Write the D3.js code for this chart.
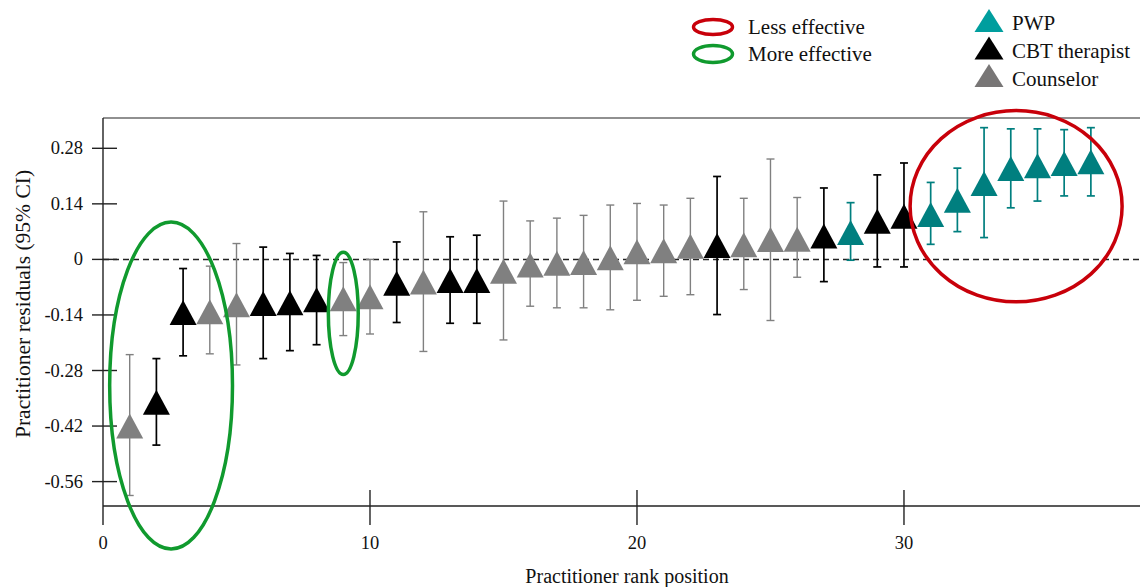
<!DOCTYPE html>
<html>
<head>
<meta charset="utf-8">
<script src="https://cdn.jsdelivr.net/npm/d3@7"></script>
<style>
  body { margin: 0; background: #fff; }
  svg { display: block; font-family: "Liberation Serif", "Times New Roman", serif; }
  svg text { font-family: "Liberation Serif", "Times New Roman", serif; fill: #111; }
</style>
</head>
<body>
<div id="chart"></div>
<script>
// practitioner rank 1..37
var ranks = d3.range(1, 38);
var roles = ["C","B","B","C","C","B","B","B","C","C","B","C","B","B","C","C","C","C","C","C","C","C","B","C","C","C","B","P","B","B","P","P","P","P","P","P","P"];
var estimates = [-0.42,-0.36,-0.134,-0.132,-0.114,-0.111,-0.109,-0.102,-0.099,-0.094,-0.06,-0.057,-0.053,-0.053,-0.03,-0.014,-0.01,-0.008,0.004,0.019,0.022,0.033,0.035,0.037,0.05,0.051,0.059,0.068,0.096,0.109,0.113,0.149,0.191,0.229,0.236,0.242,0.246];
var upper = [-0.24,-0.25,-0.023,-0.017,0.04,0.031,0.015,0.01,-0.008,0,0.044,0.12,0.057,0.061,0.147,0.097,0.104,0.111,0.137,0.141,0.137,0.154,0.209,0.154,0.253,0.156,0.18,0.143,0.213,0.243,0.194,0.23,0.332,0.329,0.329,0.327,0.332];
var lower = [-0.595,-0.468,-0.243,-0.238,-0.266,-0.25,-0.23,-0.215,-0.192,-0.188,-0.159,-0.232,-0.161,-0.161,-0.203,-0.118,-0.122,-0.122,-0.127,-0.103,-0.093,-0.089,-0.139,-0.076,-0.154,-0.045,-0.056,-0.002,-0.019,-0.019,0.038,0.07,0.055,0.13,0.147,0.16,0.16];

var yTicks = [0.28, 0.14, 0, -0.14, -0.28, -0.42, -0.56];
var yTickLabels = ["0.28", "0.14", "0", "-0.14", "-0.28", "-0.42", "-0.56"];
var xTicks = [0, 10, 20, 30];

var roleNames = {"P": "PWP", "B": "CBT therapist", "C": "Counselor"};
var roleColor = {"P": "#007f7f", "B": "#000000", "C": "#808080"};
var legendColor = {"P": "#009e9e", "B": "#000000", "C": "#787676"};

// highlighted groups (data units)
var highlights = [
  {"label": "More effective", "cx": 2.55, "cy": -0.318, "rx": 2.3, "ry": 0.412, "color": "#109a2e"},
  {"label": "More effective", "cx": 9.0, "cy": -0.136, "rx": 0.56, "ry": 0.154, "color": "#109a2e"},
  {"label": "Less effective", "cx": 34.2, "cy": 0.134, "rx": 3.97, "ry": 0.241, "color": "#c8000a"}
];

var points = ranks.map(function (r, i) {
    return {"rank": r, "role": roles[i], "est": estimates[i], "lo": lower[i], "hi": upper[i]};
});

var WIDTH = 1140, HEIGHT = 587;
var LEFT = 103, TOP = 118, AXIS_Y = 506;

var svg = d3.select("#chart").append("svg")
    .attr("width", WIDTH)
    .attr("height", HEIGHT)

var x = d3.scaleLinear().domain([0, 38.84]).range([LEFT, WIDTH]);
var y = d3.scaleLinear().domain([-0.56, 0.28]).range([481.6, 148.3]);

// frame: top line, left axis, bottom axis
svg.append("line").attr("x1", LEFT).attr("x2", WIDTH).attr("y1", TOP).attr("y2", TOP)
    .style("stroke", "#222").style("stroke-width", 1.2);
svg.append("line").attr("x1", LEFT).attr("x2", LEFT).attr("y1", TOP).attr("y2", 525)
    .style("stroke", "#222").style("stroke-width", 1.4);
svg.append("line").attr("x1", LEFT).attr("x2", WIDTH).attr("y1", AXIS_Y).attr("y2", AXIS_Y)
    .style("stroke", "#222").style("stroke-width", 1.4);

// y ticks
var yAxis = svg.append("g").attr("class", "y-axis");
yAxis.selectAll("line").data(yTicks).enter().append("line")
    .attr("x1", LEFT - 11).attr("x2", LEFT + 14)
    .attr("y1", d => y(d)).attr("y2", d => y(d))
    .style("stroke", "#222").style("stroke-width", 1.4);
yAxis.selectAll("text").data(yTicks).enter().append("text")
    .text((d, i) => yTickLabels[i])
    .attr("x", 83).attr("y", d => y(d) + 6)
    .style("font-size", "18.5px").style("text-anchor", "end");

// x ticks
var xAxis = svg.append("g").attr("class", "x-axis");
xAxis.selectAll("line").data(xTicks.filter(d => d > 0)).enter().append("line")
    .attr("x1", d => x(d)).attr("x2", d => x(d))
    .attr("y1", 490).attr("y2", 525)
    .style("stroke", "#222").style("stroke-width", 1.4);
xAxis.selectAll("text").data(xTicks).enter().append("text")
    .text(d => d)
    .attr("x", d => x(d)).attr("y", 549)
    .style("font-size", "18.5px").style("text-anchor", "middle");

// axis titles
svg.append("text").text("Practitioner rank position")
    .attr("x", 627).attr("y", 583)
    .style("font-size", "20px").style("text-anchor", "middle");
svg.append("text").text("Practitioner residuals (95% CI)")
    .attr("transform", "translate(30,304) rotate(-90)")
    .style("font-size", "21.5px").style("text-anchor", "middle");

// zero reference
svg.append("line").attr("x1", LEFT).attr("x2", WIDTH).attr("y1", y(0)).attr("y2", y(0))
    .style("stroke", "#222").style("stroke-width", 1.5).style("stroke-dasharray", "6,4");

// error bars
var CAP = 4;
var bars = svg.append("g").attr("class", "error-bars")
    .selectAll("g").data(points).enter().append("g")
    .style("stroke", d => roleColor[d.role])
    .style("stroke-width", d => d.role === "C" ? 1.4 : 1.7);
bars.append("line")
    .attr("x1", d => x(d.rank)).attr("x2", d => x(d.rank))
    .attr("y1", d => y(d.hi)).attr("y2", d => y(d.lo));
bars.append("line")
    .attr("x1", d => x(d.rank) - CAP).attr("x2", d => x(d.rank) + CAP)
    .attr("y1", d => y(d.hi)).attr("y2", d => y(d.hi));
bars.append("line")
    .attr("x1", d => x(d.rank) - CAP).attr("x2", d => x(d.rank) + CAP)
    .attr("y1", d => y(d.lo)).attr("y2", d => y(d.lo));

// triangles
function triangle(cx, cy, w, h) {
    return "M " + cx + " " + (cy - h/2) + " L " + (cx + w/2) + " " + (cy + h/2) +
        " L " + (cx - w/2) + " " + (cy + h/2) + " Z";
}
svg.append("g").attr("class", "markers")
    .selectAll("path").data(points).enter().append("path")
    .attr("d", d => triangle(x(d.rank), y(d.est), 27, 25))
    .style("fill", d => roleColor[d.role]);

// highlight ellipses
svg.append("g").attr("class", "highlights")
    .selectAll("ellipse").data(highlights).enter().append("ellipse")
    .attr("cx", d => x(d.cx)).attr("cy", d => y(d.cy))
    .attr("rx", d => x(d.rx) - x(0)).attr("ry", d => y(0) - y(d.ry))
    .style("fill", "none").style("stroke", d => d.color).style("stroke-width", 3.5);

// legend: ellipses
var effLegend = [
    {"label": "Less effective", "color": "#c8000a", "cy": 27, "ry": 7.5},
    {"label": "More effective", "color": "#109a2e", "cy": 54, "ry": 8.5}
];
var eff = svg.append("g").attr("class", "legend-effect")
    .selectAll("g").data(effLegend).enter().append("g");
eff.append("ellipse")
    .attr("cx", 713).attr("cy", d => d.cy).attr("rx", 19.5).attr("ry", d => d.ry)
    .style("fill", "none").style("stroke", d => d.color).style("stroke-width", 3.5);
eff.append("text").text(d => d.label)
    .attr("x", 748).attr("y", d => d.cy + 7)
    .style("font-size", "21px");

// legend: roles
var roleLegend = ["P", "B", "C"];
var rl = svg.append("g").attr("class", "legend-role")
    .selectAll("g").data(roleLegend).enter().append("g");
rl.append("path")
    .attr("d", (d, i) => triangle(989, 20.5 + i * 27.5, 29, 23))
    .style("fill", d => legendColor[d]);
rl.append("text").text(d => roleNames[d])
    .attr("x", 1012).attr("y", (d, i) => 30 + i * 28)
    .style("font-size", "21px");
</script>
</body>
</html>
